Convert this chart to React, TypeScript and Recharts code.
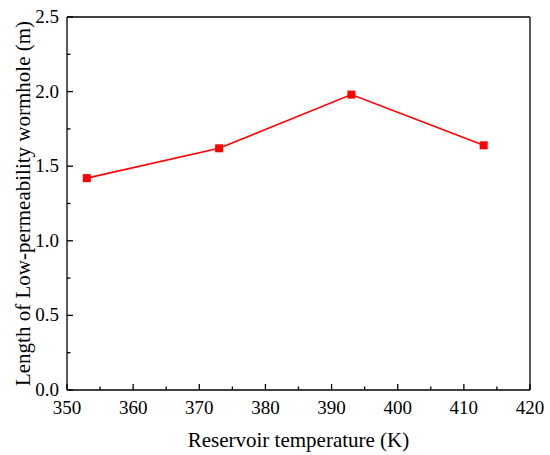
import React from 'react';
import { LineChart, Line, XAxis, YAxis, ReferenceLine } from 'recharts';

const temperatures = [353, 373, 393, 413];
const lengths = [1.42, 1.62, 1.98, 1.64];
const xTicks = [350, 355, 360, 365, 370, 375, 380, 385, 390, 395, 400, 405, 410, 415, 420];
const yTicks = [0, 0.25, 0.5, 0.75, 1.0, 1.25, 1.5, 1.75, 2.0, 2.25, 2.5];

const data = temperatures.map((t, i) => ({ t, v: lengths[i] }));

const FONT = '"Liberation Serif", "Times New Roman", serif';

const XTick = (props: any) => {
  const { x, y, payload } = props;
  const major = payload.value % 10 === 0;
  return (
    <g>
      <line x1={x} x2={x} y1={y} y2={y - (major ? 6 : 3.5)} stroke="#000" strokeWidth={1.3} />
      {major && (
        <text x={x} y={y + 24} textAnchor="middle" style={{ fontFamily: FONT, fontSize: 19 }} fill="#000">
          {payload.value}
        </text>
      )}
    </g>
  );
};

const YTick = (props: any) => {
  const { x, y, payload } = props;
  const major = Math.abs((payload.value * 2) - Math.round(payload.value * 2)) < 1e-6;
  return (
    <g>
      <line x1={x} x2={x + (major ? 6 : 3.5)} y1={y} y2={y} stroke="#000" strokeWidth={1.3} />
      {major && (
        <text x={x - 8} y={y + 6} textAnchor="end" style={{ fontFamily: FONT, fontSize: 19 }} fill="#000">
          {payload.value.toFixed(1)}
        </text>
      )}
    </g>
  );
};

const SquareDot = (props: any) => {
  const { cx, cy } = props;
  if (cx == null || cy == null) return null;
  return <rect x={cx - 4} y={cy - 4} width={8} height={8} fill="#ff0000" />;
};

const YLabel = (props: any) => {
  const vb = props.viewBox || { x: 0, y: 17, width: 67, height: 373 };
  const cx = 30;
  const cy = vb.y + vb.height / 2;
  return (
    <text
      x={cx}
      y={cy}
      transform={`rotate(-90, ${cx}, ${cy})`}
      textAnchor="middle"
      style={{ fontFamily: FONT, fontSize: 21 }}
      fill="#000"
    >
      Length of Low-permeability wormhole (m)
    </text>
  );
};

export default function App() {
  return (
    <div style={{ position: 'absolute', left: 0, top: 0, width: 550, height: 455, background: '#fff' }}>
      <LineChart width={550} height={455} data={data} margin={{ top: 17, right: 20, bottom: 0, left: 0 }}>
        <XAxis
          dataKey="t"
          type="number"
          domain={[350, 420]}
          ticks={xTicks}
          interval={0}
          tickSize={0}
          tickMargin={0}
          height={65}
          axisLine={{ stroke: '#000', strokeWidth: 1.3 }}
          tickLine={false}
          tick={<XTick />}
          label={{
            value: 'Reservoir temperature (K)',
            position: 'insideBottom',
            offset: 8,
            style: { fontFamily: FONT, fontSize: 21, fill: '#000' },
          }}
        />
        <YAxis
          type="number"
          domain={[0, 2.5]}
          ticks={yTicks}
          interval={0}
          tickSize={0}
          tickMargin={0}
          width={67}
          axisLine={{ stroke: '#000', strokeWidth: 1.3 }}
          tickLine={false}
          tick={<YTick />}
          label={{ content: <YLabel /> }}
        />
        <ReferenceLine y={2.5} stroke="#000" strokeWidth={1.3} />
        <ReferenceLine x={420} stroke="#000" strokeWidth={1.3} />
        <Line
          dataKey="v"
          stroke="#ff0000"
          strokeWidth={1.6}
          dot={<SquareDot />}
          activeDot={false}
          isAnimationActive={false}
        />
      </LineChart>
    </div>
  );
}
